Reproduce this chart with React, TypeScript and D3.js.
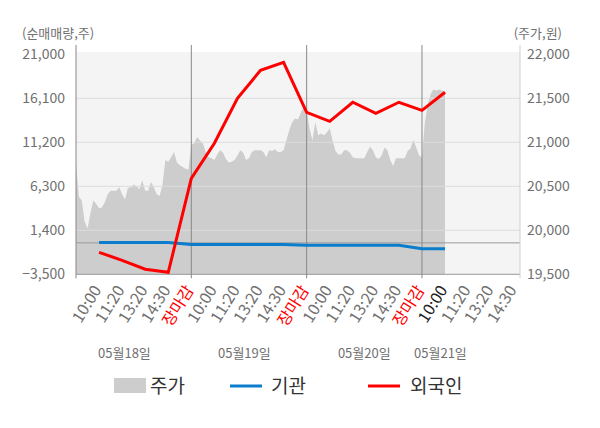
import React from 'react';
import * as d3 from 'd3';

// session labels per trading day, last day is still open
const dates = ['05월18일', '05월19일', '05월20일', '05월21일'];
const sessionTicks = ['10:00', '11:20', '13:20', '14:30', '장마감'];
const tickLabels = [
  ...sessionTicks, ...sessionTicks, ...sessionTicks,
  '10:00', '11:20', '13:20', '14:30',
];
const currentTick = 15; // '10:00' on 05/21

// net buy volume (shares), one value per session tick
const institution = [30, 30, 30, 30, -190, -190, -190, -190, -190, -270, -270, -270, -270, -270, -660, -660];
const foreign = [-1050, -1940, -2940, -3280, 7190, 11090, 16100, 19220, 20110, 14540, 13540, 15660, 14430, 15660, 14760, 16770];

// intraday price (won), 8 samples per session tick
const price = [
  20760, 20380, 20340, 20100, 20020, 20190, 20340, 20300, 20250, 20260,
  20320, 20410, 20450, 20450, 20450, 20490, 20410, 20350, 20480, 20490,
  20520, 20500, 20470, 20570, 20450, 20450, 20550, 20490, 20410, 20390,
  20520, 20800, 20780, 20830, 20890, 20770, 20740, 20720, 20700, 20690,
  20970, 20990, 21060, 21020, 20990, 20890, 20830, 20820, 20800, 20860,
  20910, 20880, 20810, 20770, 20780, 20800, 20850, 20910, 20880, 20800,
  20820, 20890, 20910, 20910, 20910, 20890, 20830, 20910, 20900, 20920,
  20890, 20890, 20910, 21030, 21140, 21230, 21270, 21260, 21340, 21400,
  21360, 21160, 21020, 21230, 21080, 21100, 21080, 21110, 21160, 21020,
  20900, 20860, 20860, 20910, 20910, 20880, 20830, 20820, 20820, 20820,
  20820, 20890, 20950, 20910, 20830, 20810, 20850, 20940, 20910, 20800,
  20730, 20820, 20820, 20820, 20820, 20900, 20930, 21030, 20940, 20850,
  20830, 21230, 21420, 21550, 21600, 21590, 21600, 21590, 21570,
];

const leftTicks = [-3500, 1400, 6300, 11200, 16100, 21000];
const rightTicks = [19500, 20000, 20500, 21000, 21500, 22000];
const dayBreaks = [5, 10, 15];
const dateLabelAt = [2.1, 7.3, 12.5, 15.8];

const font = '"Noto Sans CJK KR", "Noto Sans", sans-serif';
const axisGray = '#707070';

export default function App() {
  const left = 76, right = 520, top = 52, bottom = 274.3;

  const x = d3.scaleLinear().domain([0, 19.25]).range([left, right]);
  const yL = d3.scaleLinear().domain([-3500, 21000]).range([bottom, 54.3]);
  const yR = d3.scaleLinear().domain([19500, 22000]).range([bottom, 54.3]);

  const area = d3.area<number>()
    .x((_, i) => x(i / 8))
    .y0(yR(19500))
    .y1(d => yR(d));

  const line = d3.line<number>()
    .x((_, i) => x(i + 1))
    .y(d => yL(d));

  const fmt = d3.format(',');

  return (
    <svg width={600} height={428} style={{ position: 'absolute', left: 0, top: 0 }} fontFamily={font}>
      <rect x={left} y={top} width={right - left} height={bottom - top} fill="#f4f4f4" />
      <path d={area(price) || ''} fill="#cdcdcd" />

      {/* grid */}
      {leftTicks.slice(1, -1).map(t => (
        <line key={t} x1={left} x2={right} y1={yL(t)} y2={yL(t)} stroke="#dcdcdc" strokeWidth={1} />
      ))}
      <line x1={left} x2={right} y1={yL(0)} y2={yL(0)} stroke="#999" strokeWidth={1} />

      {/* axes frame */}
      <line x1={left} x2={right} y1={bottom} y2={bottom} stroke="#999" />
      <line x1={left} x2={left} y1={45} y2={bottom + 4} stroke="#888" />
      <line x1={right} x2={right} y1={45} y2={bottom + 4} stroke="#d0d0d0" />
      {dayBreaks.map(d => (
        <line key={d} x1={x(d)} x2={x(d)} y1={45} y2={bottom + 4} stroke="#888" />
      ))}

      {/* series */}
      <path d={line(institution) || ''} fill="none" stroke="#0a7dcc" strokeWidth={3} />
      <path d={line(foreign) || ''} fill="none" stroke="#ff0000" strokeWidth={3} />

      {/* left axis */}
      {leftTicks.map(t => (
        <text key={t} x={65} y={yL(t)} dy="0.35em" textAnchor="end" fontSize={14} fill={axisGray}>{fmt(t)}</text>
      ))}
      {rightTicks.map(t => (
        <text key={t} x={527} y={yR(t)} dy="0.35em" textAnchor="start" fontSize={14} fill={axisGray}>{fmt(t)}</text>
      ))}
      <text x={22} y={38} fontSize={13} fill={axisGray}>(순매매량,주)</text>
      <text x={562} y={38} fontSize={13} fill={axisGray} textAnchor="end">(주가,원)</text>

      {/* x labels */}
      {tickLabels.map((lab, i) => (
        <text key={i}
          transform={`translate(${x(i + 1) + 3},${290}) rotate(-58)`}
          textAnchor="end" fontSize={16}
          fill={lab === '장마감' ? '#ff0000' : i === currentTick ? '#222' : axisGray}>
          {lab}
        </text>
      ))}
      {dates.map((d, i) => (
        <text key={d} x={x(dateLabelAt[i])} y={358} textAnchor="middle" fontSize={13} fill={axisGray}>{d}</text>
      ))}

      {/* legend */}
      <rect x={114} y={378} width={32} height={15} fill="#cdcdcd" />
      <text x={150} y={393} fontSize={19} fill="#333">주가</text>
      <line x1={230} x2={262} y1={386} y2={386} stroke="#0a7dcc" strokeWidth={3} />
      <text x={271} y={393} fontSize={19} fill="#333">기관</text>
      <line x1={368} x2={400} y1={386} y2={386} stroke="#ff0000" strokeWidth={3} />
      <text x={410} y={393} fontSize={19} fill="#333">외국인</text>
    </svg>
  );
}
